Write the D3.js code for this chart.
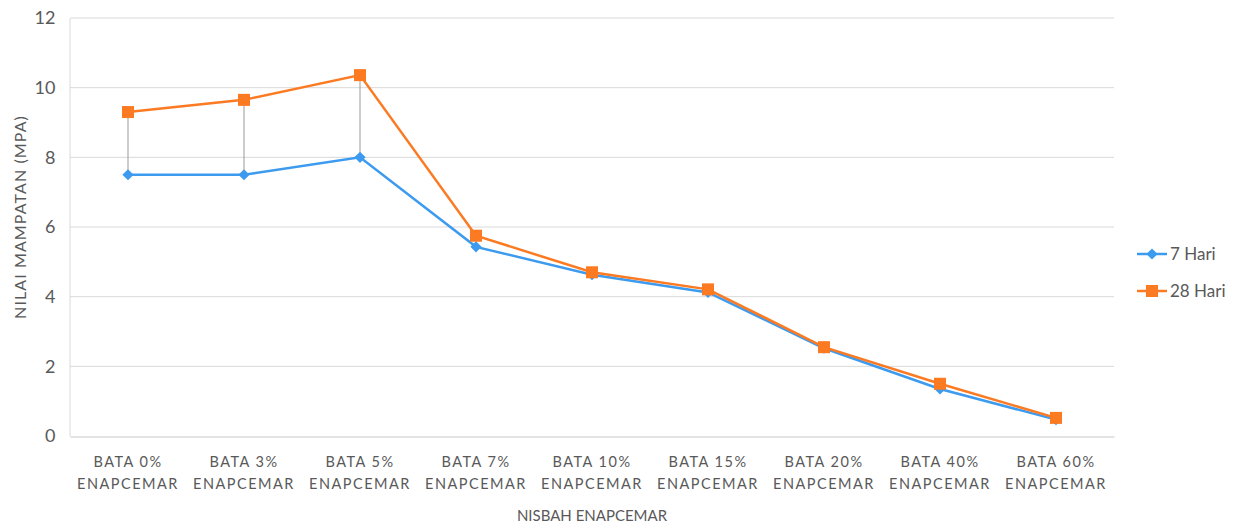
<!DOCTYPE html>
<html>
<head>
<meta charset="utf-8">
<script src="https://cdn.jsdelivr.net/npm/d3@7"></script>
<style>
  html, body { margin: 0; padding: 0; background: #fff; }
  svg { display: block; font-family: Lato, "Open Sans", sans-serif; }
</style>
</head>
<body>
<svg id="chart" width="1237" height="530"></svg>
<script>
// Compressive strength by brick mix
const categories = ["BATA 0%", "BATA 3%", "BATA 5%", "BATA 7%", "BATA 10%", "BATA 15%", "BATA 20%", "BATA 40%", "BATA 60%"];
const categorySub = "ENAPCEMAR";
const seriesNames = ["7 Hari", "28 Hari"];
const day7 = [7.5, 7.5, 8.0, 5.43, 4.63, 4.12, 2.52, 1.35, 0.47];
const day28 = [9.3, 9.65, 10.36, 5.75, 4.7, 4.21, 2.55, 1.5, 0.52];
const yTicks = [0, 2, 4, 6, 8, 10, 12];

const colors = ["#3d9bef", "#fb7a22"];
const svg = d3.select("#chart");

const x = d3.scaleBand().domain(categories).range([70, 1114]);
const y = d3.scaleLinear().domain([0, 12]).range([436, 18]);
const cx = c => x(c) + x.bandwidth() / 2;

// gridlines
svg.append("g").selectAll("line").data(yTicks.filter(d => d > 0)).join("line")
  .attr("x1", 70).attr("x2", 1114)
  .attr("y1", d => y(d)).attr("y2", d => y(d))
  .attr("stroke", "#d9d9d9").attr("stroke-width", 1);

// y axis
const yAxis = svg.append("g").attr("transform", "translate(69.5,0)")
  .call(d3.axisLeft(y).tickValues(yTicks).tickSize(0).tickPadding(14));
yAxis.select(".domain").attr("stroke", "#d9d9d9");
yAxis.selectAll("text").attr("fill", "#595959").style("font-size", "18px")
  .style("font-family", "Lato, 'Open Sans', sans-serif");

// x axis
const xAxis = svg.append("g").attr("transform", "translate(0,436.5)")
  .call(d3.axisBottom(x).tickSize(0).tickFormat(""));
xAxis.select(".domain").attr("stroke", "#c8c8c8");

const xl = svg.append("g").selectAll("text").data(categories).join("text")
  .attr("x", d => cx(d)).attr("y", 467)
  .attr("text-anchor", "middle").attr("fill", "#595959")
  .style("font-size", "14.5px").style("letter-spacing", "1.5px");
xl.append("tspan").attr("x", d => cx(d)).attr("dy", 0).text(d => d);
xl.append("tspan").attr("x", d => cx(d)).attr("dy", 22).text(categorySub);

// axis titles
svg.append("text").attr("x", 592).attr("y", 521).attr("text-anchor", "middle")
  .attr("fill", "#595959").style("font-size", "15px").text("NISBAH ENAPCEMAR");
svg.append("text").attr("transform", "translate(26,217) rotate(-90)")
  .attr("text-anchor", "middle").attr("fill", "#595959")
  .style("font-size", "16px").style("letter-spacing", "1.1px").text("NILAI MAMPATAN (MPA)");

// high-low lines between the two series
svg.append("g").selectAll("line").data(categories).join("line")
  .attr("x1", d => cx(d)).attr("x2", d => cx(d))
  .attr("y1", (d, i) => y(day7[i])).attr("y2", (d, i) => y(day28[i]))
  .attr("stroke", "#999").attr("stroke-width", 1);

const line = d3.line().x((d, i) => cx(categories[i])).y(d => y(d));

// 7 Hari
svg.append("path").datum(day7).attr("d", line)
  .attr("fill", "none").attr("stroke", colors[0]).attr("stroke-width", 2.5);
const diamond = d3.symbol().type(d3.symbolDiamond2).size(80);
svg.append("g").selectAll("path").data(day7).join("path")
  .attr("d", diamond)
  .attr("transform", (d, i) => `translate(${cx(categories[i])},${y(d)})`)
  .attr("fill", colors[0]);

// 28 Hari
svg.append("path").datum(day28).attr("d", line)
  .attr("fill", "none").attr("stroke", colors[1]).attr("stroke-width", 2.5);
svg.append("g").selectAll("rect").data(day28).join("rect")
  .attr("x", (d, i) => cx(categories[i]) - 6).attr("y", d => y(d) - 6)
  .attr("width", 12).attr("height", 12).attr("fill", colors[1]);

// legend
const leg = svg.append("g");
[0, 1].forEach(k => {
  const ly = 254 + k * 37;
  leg.append("line").attr("x1", 1137).attr("x2", 1167).attr("y1", ly).attr("y2", ly)
    .attr("stroke", colors[k]).attr("stroke-width", 2.5);
  if (k === 0) {
    leg.append("path").attr("d", diamond).attr("transform", `translate(1152,${ly})`).attr("fill", colors[0]);
  } else {
    leg.append("rect").attr("x", 1146).attr("y", ly - 6).attr("width", 12).attr("height", 12).attr("fill", colors[1]);
  }
  leg.append("text").attr("x", 1170).attr("y", ly + 6).attr("fill", "#595959")
    .style("font-size", "17px").text(seriesNames[k]);
});
</script>
</body>
</html>
